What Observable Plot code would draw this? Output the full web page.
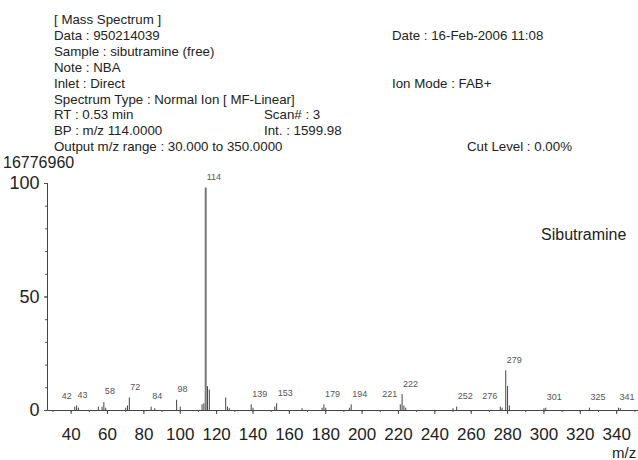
<!DOCTYPE html>
<html>
<head>
<meta charset="utf-8">
<script src="https://cdn.jsdelivr.net/npm/d3@7"></script>
<script src="https://cdn.jsdelivr.net/npm/@observablehq/plot@0.6"></script>
<style>
  body { margin: 0; background: #fff; }
  #wrap { position: relative; width: 638px; height: 460px; overflow: hidden; font-family: "Liberation Sans", Arial, sans-serif; color: #222; }
  .t { position: absolute; white-space: nowrap; font-size: 13.3px; line-height: 15.9px; }
  #chart { position: absolute; left: 0; top: 0; }
</style>
</head>
<body>
<div id="wrap">
  <div id="chart"></div>
  <div class="t" style="left:54px; top:12px;">
    [ Mass Spectrum ]<br>
    Data : 950214039<br>
    Sample : sibutramine (free)<br>
    Note : NBA<br>
    Inlet : Direct<br>
    Spectrum Type : Normal Ion [ MF-Linear]<br>
    RT : 0.53 min<br>
    BP : m/z 114.0000<br>
    Output m/z range : 30.000 to 350.0000
  </div>
  <div class="t" style="left:392px; top:27.9px;">Date : 16-Feb-2006 11:08</div>
  <div class="t" style="left:392px; top:75.6px;">Ion Mode : FAB+</div>
  <div class="t" style="left:264px; top:107.4px;">Scan# : 3</div>
  <div class="t" style="left:264px; top:123.3px;">Int. : 1599.98</div>
  <div class="t" style="left:467px; top:139.2px;">Cut Level : 0.00%</div>
  <div class="t" style="left:3px; top:154px; font-size:16px; line-height:18px;">16776960</div>
  <div class="t" style="left:541px; top:225px; font-size:16px; line-height:20px;">Sibutramine</div>
  <div class="t" style="left:612px; top:446px; font-size:15px; line-height:14px;">m/z</div>
</div>
<script>
// Labeled peaks (m/z, relative intensity %)
const peakMz  = [42, 43, 58, 72, 84, 98, 114, 139, 153, 179, 194, 221, 222, 252, 276, 279, 301, 325, 341];
const peakInt = [1.5, 2, 3.5, 5.5, 1.5, 4.5, 98, 2.5, 3, 2.5, 2.5, 2.5, 7, 1.5, 1.5, 17.5, 1, 1, 1];
// Unlabeled minor peaks
const minorMz  = [44, 55, 57, 59, 70, 71, 86, 100, 112, 113, 115, 116, 125, 126, 127, 140, 152, 167, 178, 180, 193, 223, 224, 250, 277, 280, 281, 300, 342];
const minorInt = [1, 1.5, 1.5, 1, 1, 2, 0.8, 1.5, 2.5, 3, 10.5, 9, 5.5, 1.5, 0.8, 1, 1.5, 0.8, 1, 1, 1, 2, 1, 0.8, 1, 10.5, 2, 0.8, 0.8];
// Axis ticks
const xTicks = [40, 60, 80, 100, 120, 140, 160, 180, 200, 220, 240, 260, 280, 300, 320, 340];
const xMinorTicks = d3.range(30, 351, 10);
const yTicks = [0, 50, 100];
const yMinorTicks = d3.range(0, 101, 10);

const labeled = peakMz.map((mz, i) => ({mz, v: peakInt[i]}));
const minor = minorMz.map((mz, i) => ({mz, v: minorInt[i]}));
// a label goes to the left of its peak when the next labeled peak is very close
const leftSide = labeled.filter((d, i) => i < peakMz.length - 1 && peakMz[i + 1] - d.mz <= 4);
const rightSide = labeled.filter(d => !leftSide.includes(d));

const chart = Plot.plot({
  width: 638,
  height: 460,
  marginLeft: 47,
  marginRight: 0,
  marginTop: 183,
  marginBottom: 50,
  style: {fontFamily: "Liberation Sans, Arial, sans-serif", color: "#222", background: "transparent"},
  x: {type: "linear", domain: [27, 352]},
  y: {type: "linear", domain: [0, 100]},
  marks: [
    Plot.ruleY([0], {stroke: "#444", strokeWidth: 1}),
    Plot.ruleX([27], {y1: 0, y2: 100, stroke: "#444", strokeWidth: 1}),
    Plot.axisX({ticks: xMinorTicks, tickSize: 2, text: null, label: null, stroke: "#555"}),
    Plot.axisX({ticks: xTicks, tickSize: 4, tickPadding: 13, fontSize: 17, label: null, stroke: "#444"}),
    Plot.axisY({ticks: yTicks, tickSize: 3, tickPadding: 5, fontSize: 18, label: null, stroke: "#444"}),
    Plot.axisY({ticks: yMinorTicks, tickSize: 2, text: null, label: null, stroke: "#555"}),
    Plot.ruleX(minor, {x: "mz", y1: 0, y2: "v", stroke: "#444", strokeWidth: 1}),
    Plot.ruleX(labeled, {x: "mz", y1: 0, y2: "v", stroke: d => d.v > 50 ? "#777" : "#444", strokeWidth: d => d.v > 50 ? 2 : 1}),
    Plot.text(rightSide, {x: "mz", y: "v", text: d => String(d.mz), dy: -11, dx: 1, textAnchor: "start", fontSize: 9, fill: "#555"}),
    Plot.text(leftSide, {x: "mz", y: "v", text: d => String(d.mz), dy: -11, dx: -3, textAnchor: "end", fontSize: 9, fill: "#555"})
  ]
});
document.getElementById("chart").appendChild(chart);
</script>
</body>
</html>
